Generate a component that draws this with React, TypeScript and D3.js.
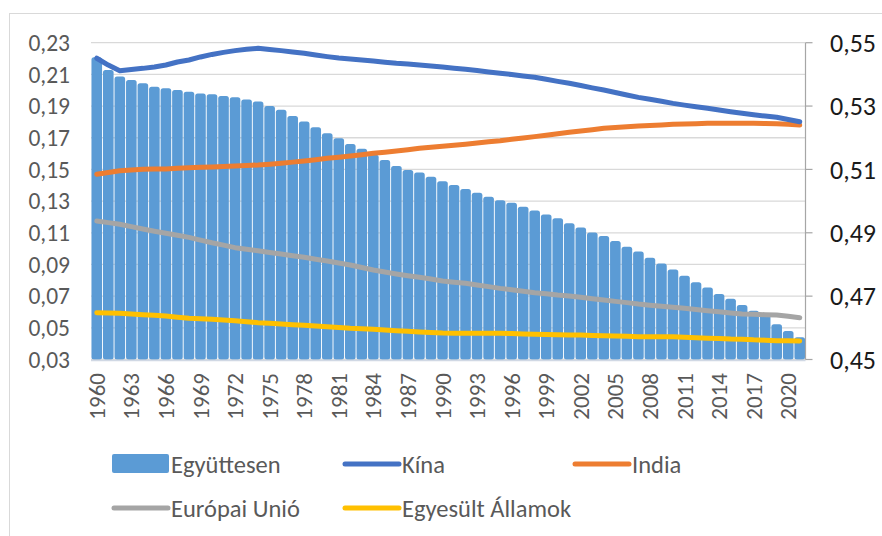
import { useEffect, useRef } from 'react'
import * as d3 from 'd3'

const WIDTH = 882
const HEIGHT = 536
const FONT = "Calibri, Carlito, 'Liberation Sans', Arial, sans-serif"

export const years = d3.range(1960, 2022).map(String)

// right axis: combined share (bars)
export const egyuttesen = [
  0.5454, 0.5414, 0.5393, 0.5382, 0.5372, 0.5361, 0.5356, 0.5351, 0.5345, 0.534,
  0.5337, 0.5332, 0.5328, 0.5321, 0.5314, 0.53, 0.5288, 0.5269, 0.5251, 0.5233,
  0.5214, 0.5198, 0.518, 0.5165, 0.5146, 0.513, 0.5111, 0.5098, 0.509, 0.5077,
  0.5063, 0.5051, 0.5038, 0.5026, 0.5014, 0.5003, 0.4995, 0.4982, 0.497, 0.4958,
  0.4946, 0.493, 0.4917, 0.4901, 0.489, 0.4874, 0.4856, 0.4841, 0.4821, 0.4803,
  0.4784, 0.4764, 0.4744, 0.4727, 0.4707, 0.4692, 0.4672, 0.4654, 0.464, 0.4611,
  0.459, 0.457,
]

// left axis: lines
export const kina = [
  0.2202, 0.2159, 0.2123, 0.2131, 0.2138, 0.2147, 0.2159, 0.2178, 0.2191, 0.221,
  0.2226, 0.2239, 0.225, 0.2258, 0.2265, 0.2257, 0.225, 0.2241, 0.2233, 0.2222,
  0.2212, 0.2203, 0.2197, 0.2191, 0.2184, 0.2177, 0.217, 0.2166, 0.2159, 0.2153,
  0.2147, 0.2139, 0.2132, 0.2124, 0.2115, 0.2107, 0.2099, 0.209, 0.2082, 0.2069,
  0.2056, 0.2044, 0.203, 0.2015, 0.2001, 0.1986, 0.197, 0.1955, 0.1943, 0.193,
  0.1917, 0.1906, 0.1896, 0.1886, 0.1875, 0.1864, 0.1854, 0.1845, 0.1837, 0.1829,
  0.1815, 0.1801,
]

export const india = [
  0.1469, 0.1481, 0.1492, 0.1496, 0.1501, 0.1502, 0.1503, 0.1507, 0.1511, 0.1513,
  0.1515, 0.1518, 0.1522, 0.1525, 0.1528, 0.1533, 0.1539, 0.1546, 0.1553, 0.1561,
  0.157, 0.1577, 0.1585, 0.1593, 0.1602, 0.1609, 0.1616, 0.1624, 0.1633, 0.164,
  0.1646, 0.1652, 0.1659, 0.1667, 0.1674, 0.1681, 0.169, 0.1698, 0.1707, 0.1716,
  0.1725, 0.1734, 0.1742, 0.1751, 0.176, 0.1765, 0.177, 0.1774, 0.1777, 0.1781,
  0.1785, 0.1787, 0.1789, 0.1791, 0.1791, 0.1791, 0.1791, 0.1791, 0.179, 0.1789,
  0.1785, 0.178,
]

export const eu = [
  0.1174, 0.1164, 0.1154, 0.1139, 0.1124, 0.111, 0.1097, 0.1084, 0.1071, 0.1054,
  0.1037, 0.1022, 0.1006, 0.0996, 0.0987, 0.0976, 0.0966, 0.0955, 0.0945, 0.0933,
  0.0922, 0.0909, 0.0897, 0.0881, 0.0865, 0.0852, 0.084, 0.0829, 0.0819, 0.0808,
  0.0796, 0.0788, 0.0781, 0.077, 0.076, 0.0749, 0.074, 0.0731, 0.0722, 0.0715,
  0.0707, 0.0701, 0.0693, 0.0684, 0.0676, 0.0667, 0.0659, 0.065, 0.0643, 0.0636,
  0.063, 0.0623, 0.0615, 0.0608, 0.0601, 0.0594, 0.0587, 0.0585, 0.0583, 0.0581,
  0.0573, 0.0564,
]

export const usa = [
  0.0595, 0.0594, 0.0592, 0.0587, 0.0583, 0.0579, 0.0575, 0.0567, 0.056, 0.0557,
  0.0554, 0.0549, 0.0545, 0.0539, 0.0532, 0.0529, 0.0524, 0.052, 0.0516, 0.0511,
  0.0507, 0.0502, 0.0497, 0.0494, 0.0491, 0.0486, 0.0482, 0.0478, 0.0474, 0.0471,
  0.0467, 0.0466, 0.0465, 0.0465, 0.0465, 0.0465, 0.0464, 0.0461, 0.0459, 0.0458,
  0.0456, 0.0455, 0.0454, 0.0452, 0.045, 0.0448, 0.0446, 0.0444, 0.0444, 0.0444,
  0.0444, 0.0441, 0.0437, 0.0434, 0.0432, 0.0429, 0.0428, 0.0424, 0.0422, 0.0419,
  0.0418, 0.0417,
]

export const leftTicks = [0.03, 0.05, 0.07, 0.09, 0.11, 0.13, 0.15, 0.17, 0.19, 0.21, 0.23]
export const rightTicks = [0.45, 0.47, 0.49, 0.51, 0.53, 0.55]

const lines = [
  { name: 'Kína', values: kina, color: '#4472C4' },
  { name: 'India', values: india, color: '#ED7D31' },
  { name: 'Európai Unió', values: eu, color: '#A5A5A5' },
  { name: 'Egyesült Államok', values: usa, color: '#FFC000' },
]
const BAR_COLOR = '#5B9BD5'

const fmt = (v: number) => d3.format('.2f')(v).replace('.', ',')

export default function App() {
  const ref = useRef<SVGSVGElement>(null)

  useEffect(() => {
    const el = ref.current
    if (!el) return
    const svg = d3.select(el)
    svg.selectAll('*').remove()

    const margin = { top: 42.7, left: 91, right: 805.5, bottom: 359.5 }

    svg
      .append('rect')
      .attr('x', 9.5)
      .attr('y', 13.5)
      .attr('width', 1000)
      .attr('height', 1000)
      .attr('fill', 'white')
      .attr('stroke', '#d9d9d9')

    const x = d3.scaleBand().domain(years).range([margin.left, margin.right]).paddingInner(0.08).paddingOuter(0.04)
    const yL = d3.scaleLinear().domain([0.03, 0.23]).range([margin.bottom, margin.top])
    const yR = d3.scaleLinear().domain([0.45, 0.55]).range([margin.bottom, margin.top])

    // gridlines
    svg
      .append('g')
      .selectAll('line')
      .data(d3.range(11).map((i) => 0.45 + i * 0.01))
      .join('line')
      .attr('x1', margin.left)
      .attr('x2', margin.right)
      .attr('y1', (d) => yR(d))
      .attr('y2', (d) => yR(d))
      .attr('stroke', '#d9d9d9')
      .attr('stroke-width', 1.3)

    // bars
    svg
      .append('g')
      .selectAll('rect')
      .data(egyuttesen)
      .join('rect')
      .attr('x', (_, i) => x(years[i]) || 0)
      .attr('width', x.bandwidth())
      .attr('y', (d) => yR(d))
      .attr('height', (d) => margin.bottom - yR(d))
      .attr('rx', 2.5)
      .attr('fill', BAR_COLOR)

    // bottom axis line
    svg
      .append('line')
      .attr('x1', margin.left)
      .attr('x2', margin.right)
      .attr('y1', margin.bottom + 1)
      .attr('y2', margin.bottom + 1)
      .attr('stroke', '#d0d8e4')
      .attr('stroke-width', 1.3)

    // lines
    const cx = (i: number) => (x(years[i]) || 0) + x.bandwidth() / 2
    const lineGen = d3
      .line<number>()
      .x((_, i) => cx(i))
      .y((d) => yL(d))
    svg
      .append('g')
      .selectAll('path')
      .data([...lines].reverse())
      .join('path')
      .attr('d', (d) => lineGen(d.values))
      .attr('fill', 'none')
      .attr('stroke', (d) => d.color)
      .attr('stroke-width', 5)
      .attr('stroke-linecap', 'round')
      .attr('stroke-linejoin', 'round')

    // left axis labels
    svg
      .append('g')
      .selectAll('text')
      .data(leftTicks)
      .join('text')
      .attr('x', 70)
      .attr('y', (d) => yL(d))
      .attr('dy', '0.35em')
      .attr('text-anchor', 'end')
      .attr('fill', '#595959')
      .style('font-family', FONT)
      .style('font-size', '23.5px')
      .text(fmt)

    // right axis
    const right = svg.append('g')
    right
      .append('line')
      .attr('x1', margin.right)
      .attr('x2', margin.right)
      .attr('y1', margin.top)
      .attr('y2', margin.bottom)
      .attr('stroke', '#a6a6a6')
      .attr('stroke-width', 1.2)
    right
      .selectAll('line.tick')
      .data(rightTicks)
      .join('line')
      .attr('class', 'tick')
      .attr('x1', margin.right)
      .attr('x2', margin.right + 7)
      .attr('y1', (d) => yR(d))
      .attr('y2', (d) => yR(d))
      .attr('stroke', '#a6a6a6')
      .attr('stroke-width', 1.2)
    right
      .selectAll('text')
      .data(rightTicks)
      .join('text')
      .attr('x', 830)
      .attr('y', (d) => yR(d))
      .attr('dy', '0.35em')
      .attr('fill', '#1a1a1a')
      .style('font-family', FONT)
      .style('font-size', '26px')
      .text(fmt)

    // x labels (every 3rd year)
    svg
      .append('g')
      .selectAll('text')
      .data(years.filter((_, i) => i % 3 === 0))
      .join('text')
      .attr('transform', (d) => `translate(${(x(d) || 0) + x.bandwidth() / 2},373) rotate(-90)`)
      .attr('dy', '0.35em')
      .attr('text-anchor', 'end')
      .attr('fill', '#595959')
      .style('font-family', FONT)
      .style('font-size', '23px')
      .text((d) => d)

    // legend
    const legendItems = [
      { name: 'Együttesen', color: BAR_COLOR, bar: true, x: 112, y: 464 },
      { name: lines[0].name, color: lines[0].color, bar: false, x: 343, y: 464 },
      { name: lines[1].name, color: lines[1].color, bar: false, x: 573, y: 464 },
      { name: lines[2].name, color: lines[2].color, bar: false, x: 112, y: 508 },
      { name: lines[3].name, color: lines[3].color, bar: false, x: 343, y: 508 },
    ]
    const lg = svg
      .append('g')
      .selectAll('g')
      .data(legendItems)
      .join('g')
      .attr('transform', (d) => `translate(${d.x},${d.y})`)
    lg.filter((d) => d.bar)
      .append('rect')
      .attr('x', 0)
      .attr('y', -10)
      .attr('width', 57)
      .attr('height', 19)
      .attr('rx', 2)
      .attr('fill', (d) => d.color)
    lg.filter((d) => !d.bar)
      .append('line')
      .attr('x1', 2)
      .attr('x2', 56)
      .attr('y1', 0)
      .attr('y2', 0)
      .attr('stroke', (d) => d.color)
      .attr('stroke-width', 5)
      .attr('stroke-linecap', 'round')
    lg.append('text')
      .attr('x', 59)
      .attr('y', 0)
      .attr('dy', '0.35em')
      .attr('fill', '#595959')
      .style('font-family', FONT)
      .style('font-size', '24.5px')
      .text((d) => d.name)
  }, [])

  return (
    <svg
      ref={ref}
      width={WIDTH}
      height={HEIGHT}
      style={{ position: 'absolute', left: 0, top: 0, display: 'block', background: 'white' }}
    />
  )
}
